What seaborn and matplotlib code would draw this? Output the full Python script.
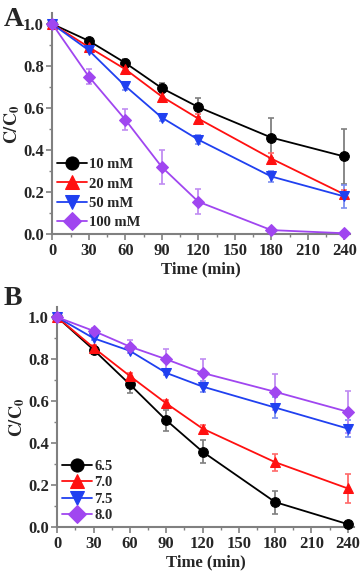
import numpy as np
import pandas as pd
import matplotlib
matplotlib.use("Agg")
import matplotlib.pyplot as plt
import seaborn as sns
from matplotlib.ticker import MultipleLocator, FormatStrFormatter

sns.set_style("ticks")
plt.rcParams['font.family'] = ['Liberation Serif', 'DejaVu Serif']
plt.rcParams['font.weight'] = 'bold'
plt.rcParams['mathtext.fontset'] = 'stix'

time = [0, 30, 60, 90, 120, 180, 240]

# Panel A
labels_a = ["10 mM", "20 mM", "50 mM", "100 mM"]
a_10 = [1.0, 0.92, 0.815, 0.695, 0.605, 0.46, 0.37]
a_10_err = [0, 0.01, 0.02, 0.025, 0.045, 0.095, 0.13]
a_20 = [1.0, 0.89, 0.785, 0.655, 0.55, 0.36, 0.19]
a_20_err = [0, 0.01, 0.012, 0.015, 0.02, 0.025, 0.02]
a_50 = [1.0, 0.875, 0.705, 0.555, 0.45, 0.275, 0.18]
a_50_err = [0, 0.01, 0.02, 0.015, 0.02, 0.025, 0.055]
a_100 = [1.0, 0.75, 0.545, 0.32, 0.155, 0.02, 0.005]
a_100_err = [0, 0.035, 0.05, 0.08, 0.06, 0.005, 0.0]

# Panel B
labels_b = ["6.5", "7.0", "7.5", "8.0"]
b_65 = [1.0, 0.845, 0.68, 0.51, 0.36, 0.12, 0.015]
b_65_err = [0, 0.015, 0.04, 0.05, 0.055, 0.055, 0.005]
b_70 = [1.0, 0.855, 0.72, 0.59, 0.47, 0.31, 0.185]
b_70_err = [0, 0.015, 0.015, 0.015, 0.015, 0.04, 0.068]
b_75 = [1.0, 0.90, 0.84, 0.735, 0.67, 0.57, 0.47]
b_75_err = [0, 0.01, 0.01, 0.01, 0.025, 0.05, 0.04]
b_80 = [1.0, 0.935, 0.86, 0.80, 0.735, 0.645, 0.55]
b_80_err = [0, 0.015, 0.03, 0.05, 0.065, 0.085, 0.1]

colors = ["#000000", "#ff1010", "#2040f0", "#a046f0"]
err_colors = ["#7f7f7f", "#ff6a6a", "#7d8ff0", "#c08cf2"]
markers = ["o", "^", "v", "D"]
msizes = [7, 7.5, 7.5, 6.5]

fig = plt.figure(figsize=(3.62, 5.74), dpi=100)
ax_a = fig.add_axes([0.1445, 0.5918, 0.8234, 0.3847])
ax_b = fig.add_axes([0.1583, 0.0814, 0.8190, 0.3842])


def draw(ax, series, errs, labels, lspace):
    for i, (vals, err, lab) in enumerate(zip(series, errs, labels)):
        ax.errorbar(time, vals, yerr=err, fmt="none", ecolor=err_colors[i],
                    elinewidth=1.3, capsize=2.5, capthick=1.2, zorder=2,
                    clip_on=False)
        df = pd.DataFrame({"t": time, "v": vals})
        sns.lineplot(data=df, x="t", y="v", ax=ax, color=colors[i],
                     marker=markers[i], markersize=msizes[i],
                     markeredgecolor=colors[i], linewidth=1.3, label=lab,
                     zorder=3, clip_on=False)
    ax.set_xlim(0, 245)
    ax.set_ylim(0, 1.05)
    ax.set_xticks([0, 30, 60, 90, 120, 150, 180, 210, 240])
    ax.xaxis.set_minor_locator(MultipleLocator(15))
    ax.set_yticks([0.0, 0.2, 0.4, 0.6, 0.8, 1.0])
    ax.yaxis.set_minor_locator(MultipleLocator(0.1))
    ax.yaxis.set_major_formatter(FormatStrFormatter("%.1f"))
    for s in ["top", "right"]:
        ax.spines[s].set_visible(False)
    for s in ["left", "bottom"]:
        ax.spines[s].set_color("#808080")
        ax.spines[s].set_linewidth(1.5)
    ax.tick_params(axis="both", which="major", length=4, width=1.2,
                   color="#808080", labelsize=12, pad=2)
    ax.tick_params(axis="both", which="minor", length=2.5, width=1.0,
                   color="#808080")
    for lbl in ax.get_xticklabels() + ax.get_yticklabels():
        lbl.set_fontweight("bold")
    ax.set_xlabel("Time (min)", fontsize=12, fontweight="bold", labelpad=2)
    ax.set_ylabel(r"$\mathbf{C/C_0}$", fontsize=13)
    ax.yaxis.set_label_coords(-0.102, 0.5)
    ax.legend(loc="lower left", bbox_to_anchor=(0.0, 0.0), frameon=False,
              prop={"weight": "bold", "size": 10.5}, handlelength=2.0,
              handletextpad=0.2, labelspacing=lspace, markerscale=1.35,
              borderpad=0.3, borderaxespad=0.05)


draw(ax_a, [a_10, a_20, a_50, a_100], [a_10_err, a_20_err, a_50_err, a_100_err], labels_a, 0.42)
draw(ax_b, [b_65, b_70, b_75, b_80], [b_65_err, b_70_err, b_75_err, b_80_err], labels_b, 0.22)

fig.text(0.01, 0.988, "A", fontsize=20, fontweight="bold", va="top", ha="left")
fig.text(0.01, 0.502, "B", fontsize=20, fontweight="bold", va="top", ha="left")

fig.savefig("out.png", dpi=100)
